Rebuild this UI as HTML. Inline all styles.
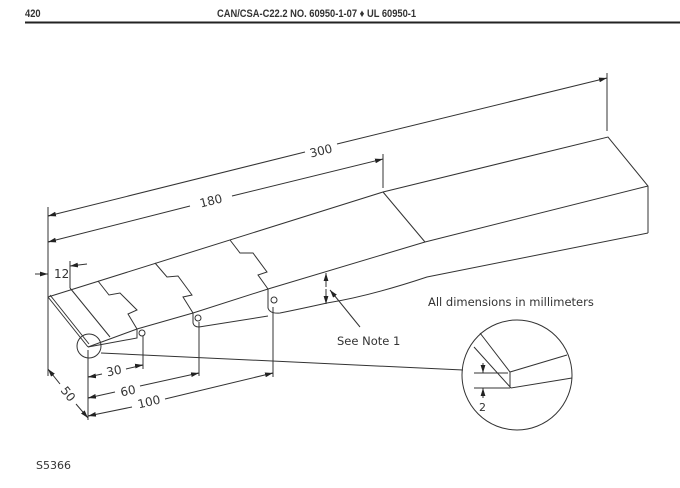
<!DOCTYPE html>
<html><head><style>
html,body{margin:0;padding:0;background:#fff;}
svg{display:block;}
text{font-family:"DejaVu Sans","Liberation Sans",sans-serif;fill:#333;}
</style></head><body>
<svg width="680" height="488" viewBox="0 0 680 488" xmlns="http://www.w3.org/2000/svg">
<defs>
<marker id="a" viewBox="0 0 10 6" refX="10" refY="3" markerWidth="8" markerHeight="5" orient="auto-start-reverse" markerUnits="userSpaceOnUse"><path d="M0,0 L10,3 L0,6z" fill="#222"/></marker>
</defs>
<text x="0" y="17" font-weight="bold" font-size="11" style="font-family:'Liberation Sans';" transform="translate(25,0) scale(0.85,1)">420</text>
<text x="0" y="17" font-weight="bold" font-size="11" style="font-family:'Liberation Sans';" transform="translate(217,0) scale(0.85,1)">CAN/CSA-C22.2 NO. 60950-1-07 ♦ UL 60950-1</text>
<line x1="25" y1="22.5" x2="680" y2="22.5" stroke="#222" stroke-width="2"/>
<g fill="none" stroke="#333" stroke-width="1">
<path d="M48,297 L383,192 L608,137 L648,186 L648,233"/>
<path d="M48,297 L88,347"/>
<path d="M50,295 L89,344"/>
<path d="M88,347 L137,329 L193,313 L268,289 L425,242 L648,186"/>
<path d="M383,192 L425,242"/>
<path d="M88,347 L137,338 L137,329"/>
<path d="M193,313 L193,323 Q194,327 199,327 L268,316"/>
<path d="M268,289 L268,308 Q270,314 280,313 Q300,309 327,303 Q370,296 427,277 L648,233"/>
<path d="M70,288 L110,337"/>
<path d="M98,281 L109,295 L120,293 L137,310 L128,314 L137,329"/>
<path d="M155,263 L167,277 L178,276 L192,295 L183,297 L193,313"/>
<path d="M230,240 L240,253 L253,253 L267,272 L258,275 L268,289"/>
<circle cx="142" cy="333" r="3"/>
<circle cx="198" cy="318" r="3"/>
<circle cx="274" cy="300" r="3"/>
<circle cx="89" cy="346" r="12"/>
<path d="M48,207 V376 M607,73 V131 M383,154 V188 M70,261 V288 M88,350 V420 M143,336 V369 M199,322 V376 M273,307 V377"/>
<path d="M48,216 L305,152 M337,144 L607,78" marker-end="url(#a)"/>
<path d="M48,216 L52,215" marker-start="url(#a)"/>
<path d="M48,242 L190,206 M232,196 L383,159" marker-end="url(#a)"/>
<path d="M48,242 L52,241" marker-start="url(#a)"/>
<path d="M35,274 L48,274" marker-end="url(#a)"/>
<path d="M87,264 L70,266" marker-end="url(#a)"/>
<path d="M48,369 L60,384 M76,404 L88,418" marker-end="url(#a)" marker-start="url(#a)"/>
<path d="M88,377 L102,374 M126,369 L143,365" />
<path d="M95,376 L88,377" marker-end="url(#a)"/>
<path d="M136,366 L143,365" marker-end="url(#a)"/>
<path d="M88,398 L115,392 M140,386 L199,373"/>
<path d="M95,396.5 L88,398" marker-end="url(#a)"/>
<path d="M192,374.5 L199,373" marker-end="url(#a)"/>
<path d="M88,416 L132,407 M165,399 L273,373"/>
<path d="M95,414.5 L88,416" marker-end="url(#a)"/>
<path d="M266,374.7 L273,373" marker-end="url(#a)"/>
<path d="M326,287 L326,273" marker-end="url(#a)"/>
<path d="M326,289 L326,304" marker-end="url(#a)"/>
<path d="M360,327 L330,290" marker-end="url(#a)"/>
<path d="M101,353 L463,370"/>
<circle cx="517" cy="375" r="55"/>
<path d="M480,333 L510,372 L567,355 M474,347 L511,388 L572,378 M510,372 V388 M474,373 H508 M474,388 H510"/>
<path d="M483,363 L483,373" marker-end="url(#a)"/>
<path d="M483,398 L483,388" marker-end="url(#a)"/>
</g>
<g font-size="12">
<text x="321" y="155" text-anchor="middle" transform="rotate(-14 321 151)">300</text>
<text x="211" y="205" text-anchor="middle" transform="rotate(-14 211 201)">180</text>
<text x="54" y="278">12</text>
<text x="68" y="398" text-anchor="middle" transform="rotate(52 68 394)">50</text>
<text x="114" y="375" text-anchor="middle" transform="rotate(-12 114 371)">30</text>
<text x="128" y="395" text-anchor="middle" transform="rotate(-12 128 391)">60</text>
<text x="149" y="406" text-anchor="middle" transform="rotate(-13 149 402)">100</text>
<text x="337" y="345" font-size="11.5">See  Note  1</text>
<text x="428" y="306" font-size="11.5">All  dimensions  in  millimeters</text>
<text x="479" y="411" font-size="11">2</text>
<text x="36" y="469" font-size="11">S5366</text>
</g>
</svg>
</body></html>
